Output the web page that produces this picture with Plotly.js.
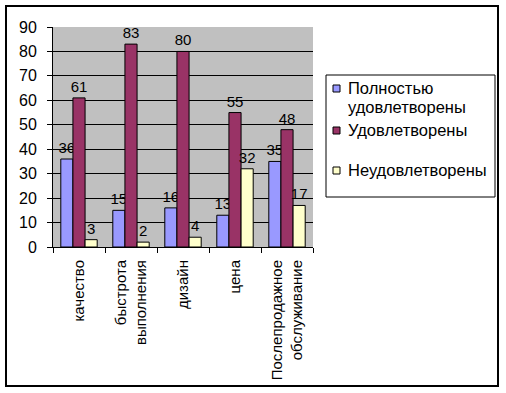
<!DOCTYPE html>
<html>
<head>
<meta charset="utf-8">
<script src="https://cdn.plot.ly/plotly-3.0.1.min.js"></script>
<style>
html,body{margin:0;padding:0;background:#fff;}
#chart{width:506px;height:393px;}
</style>
</head>
<body>
<div id="chart"></div>
<script>
const categories = ["качество", "быстрота<br>выполнения", "дизайн", "цена", "Послепродажное<br>обслуживание"];
const seriesNames = ["Полностью<br>удовлетворены", "Удовлетворены", "Неудовлетворены"];
const fullySatisfied = [36, 15, 16, 13, 35];
const satisfied = [61, 83, 80, 55, 48];
const unsatisfied = [3, 2, 4, 32, 17];
const seriesColors = ["#9999FF", "#993366", "#FFFFCC"];

const seriesValues = [fullySatisfied, satisfied, unsatisfied];
const font = "Liberation Sans, Arial, sans-serif";

const traces = seriesValues.map((vals, i) => ({
  type: "bar",
  name: seriesNames[i],
  x: categories,
  y: vals,
  text: vals.map(String),
  textposition: "outside",
  constraintext: "none",
  textfont: {family: font, size: 15, color: "#000"},
  cliponaxis: false,
  marker: {color: seriesColors[i], line: {color: "#000", width: 1}},
  hoverinfo: "none",
  showlegend: false
}));

// plot area in pixels: x 53..313, y 27..247
const pl = 53, pw = 260, pt = 27, ph = 220;
const px = v => (v - pl) / pw;
const py = v => (pt + ph - v) / ph;

// manual legend (Excel style)
const legendRows = [
  {sq: 85, lines: [88, 107]},
  {sq: 127, lines: [130]},
  {sq: 167, lines: [170]}
];
const shapes = [
  {type: "rect", xref: "paper", yref: "paper",
   x0: px(6), x1: px(498), y0: py(386), y1: py(6),
   line: {color: "#000", width: 2}, fillcolor: "rgba(0,0,0,0)"},
  {type: "rect", xref: "paper", yref: "paper",
   x0: px(326), x1: px(495), y0: py(197), y1: py(75),
   line: {color: "#000", width: 1}, fillcolor: "#fff"}
];
const annotations = [];
seriesNames.forEach((name, i) => {
  const r = legendRows[i];
  shapes.push({type: "rect", xref: "paper", yref: "paper",
    x0: px(333), x1: px(340), y0: py(r.sq + 7), y1: py(r.sq),
    line: {color: "#000", width: 1}, fillcolor: seriesColors[i]});
  name.split("<br>").forEach((ln, j) => {
    annotations.push({xref: "paper", yref: "paper",
      x: px(346), y: py(r.lines[j]), xanchor: "left", yanchor: "middle",
      text: ln, showarrow: false,
      font: {family: font, size: 16.5, color: "#000"}});
  });
});

const layout = {
  width: 506, height: 393,
  margin: {l: pl, r: 506 - pl - pw, t: pt, b: 393 - pt - ph},
  paper_bgcolor: "#fff",
  plot_bgcolor: "#C0C0C0",
  barmode: "group",
  bargap: 0.3,
  bargroupgap: 0,
  showlegend: false,
  font: {family: font, size: 14, color: "#000"},
  xaxis: {
    type: "category",
    tickangle: -90,
    ticks: "outside",
    tickson: "boundaries",
    ticklen: 5,
    tickcolor: "#000",
    showline: true,
    linecolor: "#000",
    linewidth: 1,
    showgrid: false,
    tickfont: {family: font, size: 15, color: "#000"},
    ticklabelstandoff: 6,
    fixedrange: true
  },
  yaxis: {
    range: [0, 90],
    dtick: 10,
    ticks: "outside",
    ticklen: 5,
    tickcolor: "#000",
    showline: true,
    linecolor: "#000",
    linewidth: 1,
    gridcolor: "#000",
    gridwidth: 1,
    zeroline: false,
    tickfont: {family: font, size: 16, color: "#000"},
    ticklabelstandoff: 7,
    fixedrange: true
  },
  shapes: shapes,
  annotations: annotations
};

Plotly.newPlot("chart", traces, layout, {displayModeBar: false, staticPlot: true});
</script>
</body>
</html>
